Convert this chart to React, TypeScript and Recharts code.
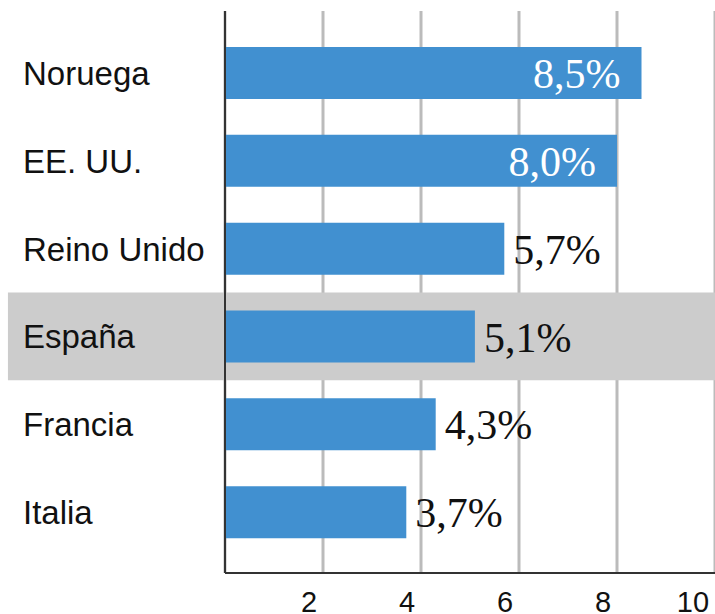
import { BarChart, Bar, XAxis, YAxis, CartesianGrid, ReferenceArea, LabelList } from "recharts";

const paises = ["Noruega", "EE. UU.", "Reino Unido", "España", "Francia", "Italia"];
const valores = [8.5, 8.0, 5.7, 5.1, 4.3, 3.7];
const ticksX = [2, 4, 6, 8, 10];
const destacado = "España";

const data = paises.map((pais, i) => ({ pais, valor: valores[i] }));

const fmt = (v: number) => `${v.toFixed(1).replace(".", ",")}%`;

function TickPais(props: any) {
  const { y, payload } = props;
  return (
    <text x={23} y={y + 12} fill="#111" fontSize={33} fontFamily="Liberation Sans, Arial, sans-serif">
      {payload.value}
    </text>
  );
}

function TickX(props: any) {
  const { x, y, payload } = props;
  return (
    <text x={x - 14} y={y + 31} textAnchor="middle" fill="#111" fontSize={29} fontFamily="Liberation Sans, Arial, sans-serif">
      {payload.value}
    </text>
  );
}

function Etiqueta(props: any) {
  const { x, y, width, height, value } = props;
  const dentro = value >= 8;
  const cy = y + height / 2 + 15;
  return (
    <text
      x={dentro ? x + width - 21 : x + width + 9}
      y={cy}
      textAnchor={dentro ? "end" : "start"}
      fill={dentro ? "#ffffff" : "#111"}
      fontSize={42}
      fontFamily="Liberation Serif, Times New Roman, serif"
    >
      {fmt(value)}
    </text>
  );
}

export default function App() {
  return (
    <div style={{ position: "absolute", left: 0, top: 0, background: "#fff" }}>
      <BarChart
        width={715}
        height={614}
        data={data}
        layout="vertical"
        margin={{ top: 11, right: 0, bottom: 0, left: 0 }}
        barSize={52}
      >
        <ReferenceArea
          y1={destacado}
          y2={destacado}
          x1={-4.43}
          x2={10}
          fill="#cccccc"
          fillOpacity={1}
          ifOverflow="visible"
        />
        <CartesianGrid horizontal={false} stroke="#bbbbbb" strokeWidth={3} />
        <XAxis
          type="number"
          domain={[0, 10]}
          ticks={ticksX}
          height={41}
          tickLine={false}
          axisLine={{ stroke: "#333", strokeWidth: 2 }}
          tick={<TickX />}
        />
        <YAxis
          type="category"
          dataKey="pais"
          width={225}
          padding={{ top: 18, bottom: 17 }}
          tickLine={false}
          axisLine={{ stroke: "#333", strokeWidth: 2 }}
          tick={<TickPais />}
        />
        <Bar dataKey="valor" fill="#4190d0" isAnimationActive={false}>
          <LabelList dataKey="valor" content={<Etiqueta />} />
        </Bar>
      </BarChart>
    </div>
  );
}
